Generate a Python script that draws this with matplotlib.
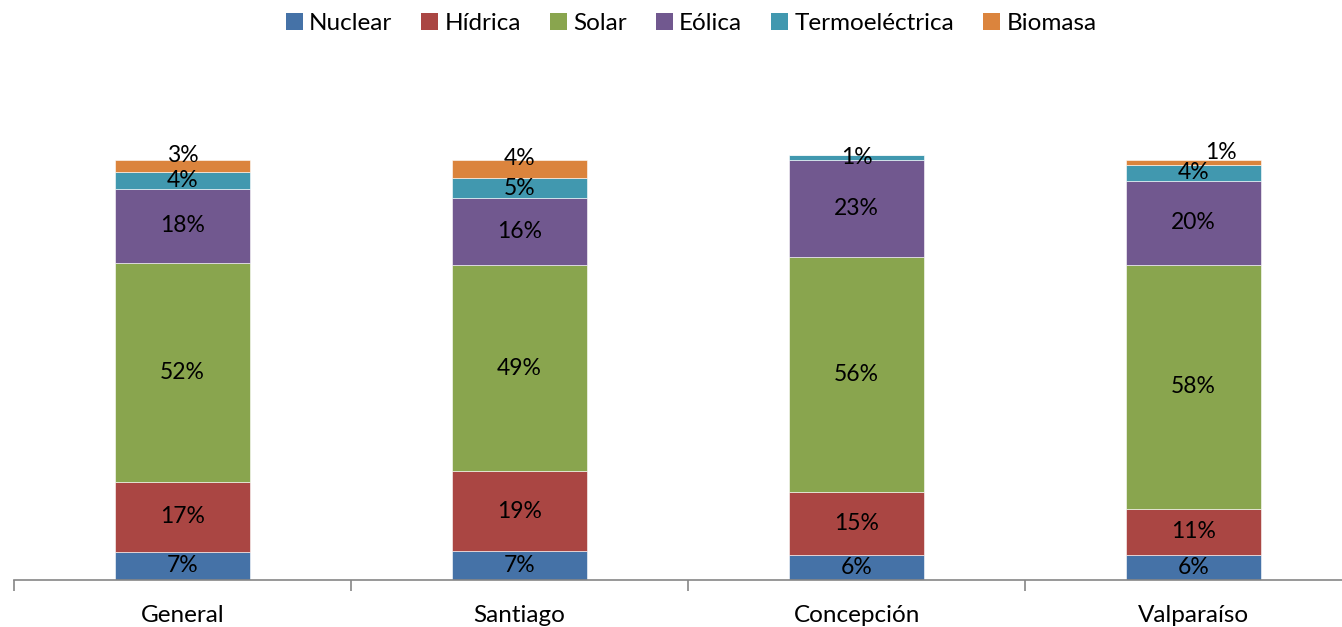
import numpy as np
import matplotlib
matplotlib.use("Agg")
import matplotlib.pyplot as plt
from matplotlib.patches import Patch

plt.rcParams["font.family"] = ["Lato", "DejaVu Sans"]

# data (percent)
CATEGORIES = ["General", "Santiago", "Concepción", "Valparaíso"]
SERIES = ["Nuclear", "Hídrica", "Solar", "Eólica", "Termoeléctrica", "Biomasa"]
NUCLEAR = [6.7, 6.9, 6.0, 6.0]
HIDRICA = [16.7, 19.0, 15.0, 11.0]
SOLAR = [52.1, 49.0, 56.0, 58.1]
EOLICA = [17.6, 16.0, 23.1, 20.0]
TERMO = [4.0, 4.8, 1.0, 3.8]
BIOMASA = [2.9, 4.3, 0.0, 1.2]
LABELS = [
    ["7%", "7%", "6%", "6%"],
    ["17%", "19%", "15%", "11%"],
    ["52%", "49%", "56%", "58%"],
    ["18%", "16%", "23%", "20%"],
    ["4%", "5%", "1%", "4%"],
    ["3%", "4%", "", "1%"],
]
COLORS = ["#4572A7", "#AA4643", "#89A54E", "#71588F", "#4198AF", "#DB843D"]

values = [NUCLEAR, HIDRICA, SOLAR, EOLICA, TERMO, BIOMASA]

fig = plt.figure(figsize=(13.42, 6.27), dpi=100)
ax = fig.add_axes([14 / 1342, 47 / 627, 1328 / 1342, 504 / 627])

x = np.arange(len(CATEGORIES))
bottom = np.zeros(len(CATEGORIES))
for i, (name, vals, col) in enumerate(zip(SERIES, values, COLORS)):
    vals = np.array(vals)
    ax.bar(x, vals, width=0.4, bottom=bottom, color=col, label=name,
           edgecolor="white", linewidth=0.4, zorder=2)
    for j in range(len(x)):
        lab = LABELS[i][j]
        if not lab:
            continue
        yc = bottom[j] + vals[j] / 2
        dx = 0
        # small top labels get pushed up a bit (as Excel did)
        if name == "Biomasa":
            yc = bottom[j] + vals[j] + 1.6 if vals[j] < 2 else yc + 2.6
            if vals[j] < 2:
                dx = 0.08
        ax.text(x[j] + dx, yc, lab, ha="center", va="center", fontsize=16.5,
                color="black", zorder=3)
    bottom += vals

ax.set_xlim(-0.5, 3.44)
ax.set_ylim(0, 120)
ax.set_yticks([])
for s in ["top", "right", "left"]:
    ax.spines[s].set_visible(False)
ax.spines["bottom"].set_color("#868686")
ax.spines["bottom"].set_linewidth(1.2)

ax.set_xticks(x)
ax.set_xticklabels(CATEGORIES, fontsize=17.5)
ax.tick_params(axis="x", which="major", length=0, pad=18)
ax.set_xticks([-0.5, 0.5, 1.5, 2.5], minor=True)
ax.tick_params(axis="x", which="minor", length=8, width=1.2, color="#868686", direction="out")

handles = [Patch(facecolor=c, edgecolor="none") for c in COLORS]
fig.legend(handles, SERIES, loc="center", bbox_to_anchor=(0.515, 0.962), ncol=6,
           frameon=False, fontsize=17.5, handlelength=0.7, handleheight=0.7,
           handletextpad=0.25, columnspacing=1.2)

fig.savefig("out.png", dpi=100)
